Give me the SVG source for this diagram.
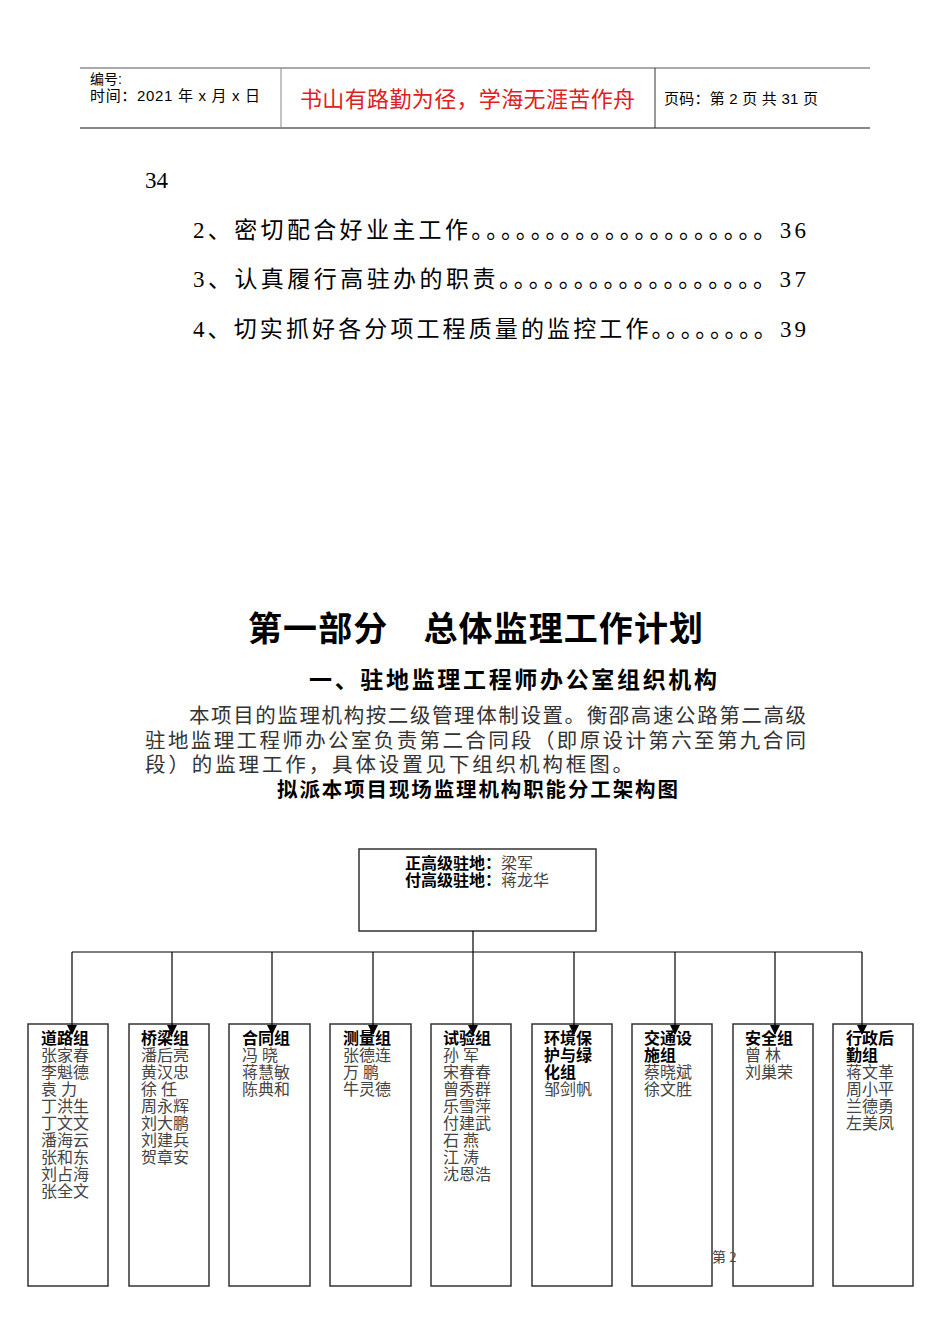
<svg xmlns="http://www.w3.org/2000/svg" width="950" height="1344" viewBox="0 0 950 1344">
<style>
.s{font-family:"Liberation Serif","Noto Sans CJK SC",serif;}
.h{font-family:"Liberation Sans","Noto Sans CJK SC",sans-serif;}
.bx{fill:#fff;stroke:#333;stroke-width:1.5}
.ln{stroke:#000;stroke-width:1.2;fill:none}
.n{font-size:16px;fill:#444}
.t{font-size:16px;font-weight:bold;fill:#000}
</style>
<defs>
<marker id="b" markerWidth="10" markerHeight="10" refX="9" refY="5" orient="auto" markerUnits="userSpaceOnUse"><path d="M0,0L10,5L0,10Z" fill="#000"/></marker></defs>
<rect width="950" height="1344" fill="#fff"/>
<g id="header">
<line x1="80" y1="68" x2="870" y2="68" stroke="#555" stroke-width="1"/>
<line x1="80" y1="128" x2="870" y2="128" stroke="#888" stroke-width="2"/>
<line x1="281" y1="68" x2="281" y2="128" stroke="#888"/>
<line x1="655" y1="68" x2="655" y2="128" stroke="#333"/>
<text class="h" x="90" y="84" font-size="14">编号:</text>
<text class="h" x="90" y="101" font-size="15" textLength="170">时间：2021 年 x 月 x 日</text>
<text class="h" x="300" y="107" font-size="22" fill="#e02020" textLength="335">书山有路勤为径，学海无涯苦作舟</text>
<text class="h" x="664" y="104" font-size="15" textLength="154">页码：第 2 页 共 31 页</text>
</g>
<g id="toc" class="s" font-size="23">
<text x="145" y="188">34</text>
<text x="193" y="238" textLength="613">2、密切配合好业主工作。。。。。。。。。。。。。。。。。。。。36</text>
<text x="193" y="287" textLength="613">3、认真履行高驻办的职责。。。。。。。。。。。。。。。。。。37</text>
<text x="193" y="337" textLength="613">4、切实抓好各分项工程质量的监控工作。。。。。。。。39</text>
</g>
<g id="body">
<text class="h" x="248" y="641" font-size="34" font-weight="bold" textLength="455">第一部分　总体监理工作计划</text>
<text class="h" x="309" y="688" font-size="23" font-weight="bold" textLength="408">一、驻地监理工程师办公室组织机构</text>
<text class="s" font-size="20.5" fill="#333"><tspan x="189" y="723" textLength="617">本项目的监理机构按二级管理体制设置。衡邵高速公路第二高级</tspan><tspan x="145" y="748" textLength="661">驻地监理工程师办公室负责第二合同段（即原设计第六至第九合同</tspan><tspan x="145" y="772" textLength="488">段）的监理工作，具体设置见下组织机构框图。</tspan></text>
<text class="h" x="277" y="797" font-size="20.5" font-weight="bold" textLength="401">拟派本项目现场监理机构职能分工架构图</text>
</g>
<g id="top"><rect class="bx" x="359" y="849" width="237" height="82"/>
<text class="s" font-size="16"><tspan x="405" y="869" font-weight="bold">正高级驻地：</tspan><tspan fill="#444">梁军</tspan><tspan x="405" y="886" font-weight="bold">付高级驻地：</tspan><tspan fill="#444">蒋龙华</tspan></text></g>
<g id="g1"><rect class="bx" x="28" y="1024" width="80" height="262"/><text class="s"><tspan class="t" x="41" y="1044">道路组</tspan><tspan class="n" x="41" dy="17">张家春</tspan><tspan class="n" x="41" dy="17">李魁德</tspan><tspan class="n" x="41" dy="17">袁 力</tspan><tspan class="n" x="41" dy="17">丁洪生</tspan><tspan class="n" x="41" dy="17">丁文文</tspan><tspan class="n" x="41" dy="17">潘海云</tspan><tspan class="n" x="41" dy="17">张和东</tspan><tspan class="n" x="41" dy="17">刘占海</tspan><tspan class="n" x="41" dy="17">张全文</tspan></text></g>
<g id="g2"><rect class="bx" x="129" y="1024" width="80" height="262"/><text class="s"><tspan class="t" x="141" y="1044">桥梁组</tspan><tspan class="n" x="141" dy="17">潘后亮</tspan><tspan class="n" x="141" dy="17">黄汉忠</tspan><tspan class="n" x="141" dy="17">徐 任</tspan><tspan class="n" x="141" dy="17">周永辉</tspan><tspan class="n" x="141" dy="17">刘大鹏</tspan><tspan class="n" x="141" dy="17">刘建兵</tspan><tspan class="n" x="141" dy="17">贺章安</tspan></text></g>
<g id="g3"><rect class="bx" x="229" y="1024" width="81" height="262"/><text class="s"><tspan class="t" x="242" y="1044">合同组</tspan><tspan class="n" x="242" dy="17">冯 晓</tspan><tspan class="n" x="242" dy="17">蒋慧敏</tspan><tspan class="n" x="242" dy="17">陈典和</tspan></text></g>
<g id="g4"><rect class="bx" x="330" y="1024" width="81" height="262"/><text class="s"><tspan class="t" x="343" y="1044">测量组</tspan><tspan class="n" x="343" dy="17">张德连</tspan><tspan class="n" x="343" dy="17">万 鹏</tspan><tspan class="n" x="343" dy="17">牛灵德</tspan></text></g>
<g id="g5"><rect class="bx" x="431" y="1024" width="80" height="262"/><text class="s"><tspan class="t" x="443" y="1044">试验组</tspan><tspan class="n" x="443" dy="17">孙 军</tspan><tspan class="n" x="443" dy="17">宋春春</tspan><tspan class="n" x="443" dy="17">曾秀群</tspan><tspan class="n" x="443" dy="17">乐雪萍</tspan><tspan class="n" x="443" dy="17">付建武</tspan><tspan class="n" x="443" dy="17">石 燕</tspan><tspan class="n" x="443" dy="17">江 涛</tspan><tspan class="n" x="443" dy="17">沈恩浩</tspan></text></g>
<g id="g6"><rect class="bx" x="532" y="1024" width="80" height="262"/><text class="s"><tspan class="t" x="544" y="1044">环境保</tspan><tspan class="t" x="544" dy="17">护与绿</tspan><tspan class="t" x="544" dy="17">化组</tspan><tspan class="n" x="544" dy="17">邹剑帆</tspan></text></g>
<g id="g7"><rect class="bx" x="632" y="1024" width="80" height="262"/><text class="s"><tspan class="t" x="644" y="1044">交通设</tspan><tspan class="t" x="644" dy="17">施组</tspan><tspan class="n" x="644" dy="17">蔡晓斌</tspan><tspan class="n" x="644" dy="17">徐文胜</tspan></text></g>
<g id="g8"><rect class="bx" x="733" y="1024" width="80" height="262"/><text class="s"><tspan class="t" x="745" y="1044">安全组</tspan><tspan class="n" x="745" dy="17">曾 林</tspan><tspan class="n" x="745" dy="17">刘巢荣</tspan></text></g>
<g id="g9"><rect class="bx" x="833" y="1024" width="80" height="262"/><text class="s"><tspan class="t" x="846" y="1044">行政后</tspan><tspan class="t" x="846" dy="17">勤组</tspan><tspan class="n" x="846" dy="17">蒋文革</tspan><tspan class="n" x="846" dy="17">周小平</tspan><tspan class="n" x="846" dy="17">兰德勇</tspan><tspan class="n" x="846" dy="17">左美凤</tspan></text></g>
<g id="connectors">
<line class="ln" x1="473" y1="931" x2="473" y2="952"/>
<line class="ln" x1="72" y1="952" x2="862" y2="952"/>
<g marker-end="url(#b)">
<line class="ln" x1="72" y1="952" x2="72" y2="1034"/>
<line class="ln" x1="172" y1="952" x2="172" y2="1034"/>
<line class="ln" x1="272" y1="952" x2="272" y2="1034"/>
<line class="ln" x1="373" y1="952" x2="373" y2="1034"/>
<line class="ln" x1="473" y1="952" x2="473" y2="1034"/>
<line class="ln" x1="574" y1="952" x2="574" y2="1034"/>
<line class="ln" x1="675" y1="952" x2="675" y2="1034"/>
<line class="ln" x1="775" y1="952" x2="775" y2="1034"/>
<line class="ln" x1="862" y1="952" x2="862" y2="1034"/>
</g>
</g>
<text class="s" x="712" y="1262" font-size="14" fill="#444">第 2</text>
</svg>
